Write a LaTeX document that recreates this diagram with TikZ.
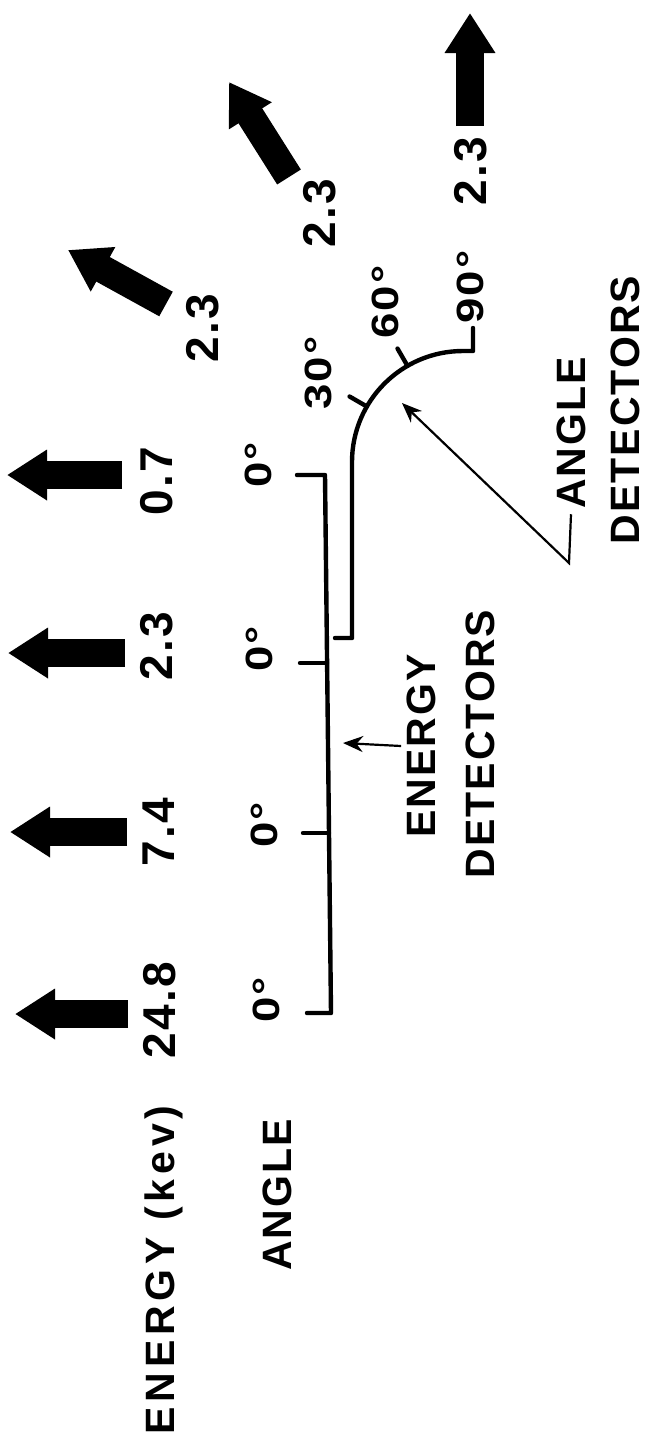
\documentclass[tikz,border=0pt]{standalone}
\usepackage{fontspec}
\usetikzlibrary{arrows.meta,calc}
\newfontfamily\leroy{Liberation Sans}[LetterSpace=5]

\begin{document}
\begin{tikzpicture}[x=0.5pt, y=-0.5pt,
    fat/.style={line width=14pt, -{Triangle[width=24pt, length=20pt]}},
    pointer/.style={line width=1.1pt, -{Stealth[length=10pt, width=8pt]}},
    frame/.style={line width=2.2pt, line cap=round, line join=round},
    lbl/.style={rotate=90, inner sep=2.5pt, font=\leroy\bfseries\fontsize{20.5}{24}\selectfont},
    val/.style={rotate=90, inner sep=0pt, font=\leroy\bfseries\fontsize{23}{27}\selectfont},
    ang/.style={rotate=90, inner sep=0pt, font=\leroy\bfseries\fontsize{19}{22}\selectfont\addfontfeatures{FakeStretch=1.2, LetterSpace=6}}]
  \useasboundingbox (0,0) rectangle (647,1441);
  % === row labels ===
  \node[lbl] (energy) at (164,1270) {\addfontfeatures{LetterSpace=12}ENERGY (kev)};
  \node[lbl] (angle) at (277,1195) {ANGLE};
  % === energy detectors, all at 0 deg ===
  \foreach \i/\ty/\tx/\hx/\vx/\vy/\dx/\dy/\val in
      {1/475/122/7/157/481/258/465/0.7, 2/653/125/8/157/646/259/649/2.3,
       3/832/127/10/159/832/264/825/7.4, 4/1014/128/15/160/1010/266/1000/24.8} {
    \draw[fat] (\tx,\ty) -- (\hx,\ty);
    \node[val] (e\i) at (\vx,\vy) {\val};
    \node[ang] (z\i) at (\dx,\dy) {0°};
  }
  % detector line with ticks
  \draw[frame] (297,475) -- (325,475) -- (331,1013) -- (307,1013);
  \draw[frame] (300,663) -- (327,663);
  \draw[frame] (303,833) -- (329,833);
  % === angle detectors ===
  \coordinate (arcc) at (463,462);
  \draw[frame] (335,638) -- (352,638) -- (352,462)
    arc[start angle=180, end angle=270, radius=111] -- (473,351) -- (473,328);
  \foreach \a in {210,240}
    \draw[frame] ($(arcc)+(\a:111)$) -- ($(arcc)+(\a:131)$);
  % arrows at 30, 60 and 90 deg
  \draw[fat] (166,304) -- (68,250);
  \draw[fat] (289,177) -- (229,82);
  \draw[fat] (470,126) -- (470,13);
  \node[val] (a30) at (203,328) {2.3};
  \node[val] (a60) at (320,213) {2.3};
  \node[val] (a90) at (471,171) {2.3};
  \node[ang] (d30) at (318,373) {30°};
  \node[ang] (d60) at (385,302) {60°};
  \node[ang] (d90) at (470,287) {90°};
  % === detector labels and pointers ===
  \node[lbl] (edet1) at (421,746) {ENERGY};
  \node[lbl] (edet2) at (480,744) {DETECTORS};
  \coordinate (etip) at (343,743);
  \draw[pointer] (edet1.north) -- (etip);
  \node[lbl] (adet1) at (571,433) {ANGLE};
  \node[lbl] (adet2) at (625,410) {DETECTORS};
  \coordinate (abend) at (569,563);
  \coordinate (atip) at (402,403);
  \draw[pointer] (adet1.west) -- (abend) -- (atip);
\end{tikzpicture}
\end{document}
